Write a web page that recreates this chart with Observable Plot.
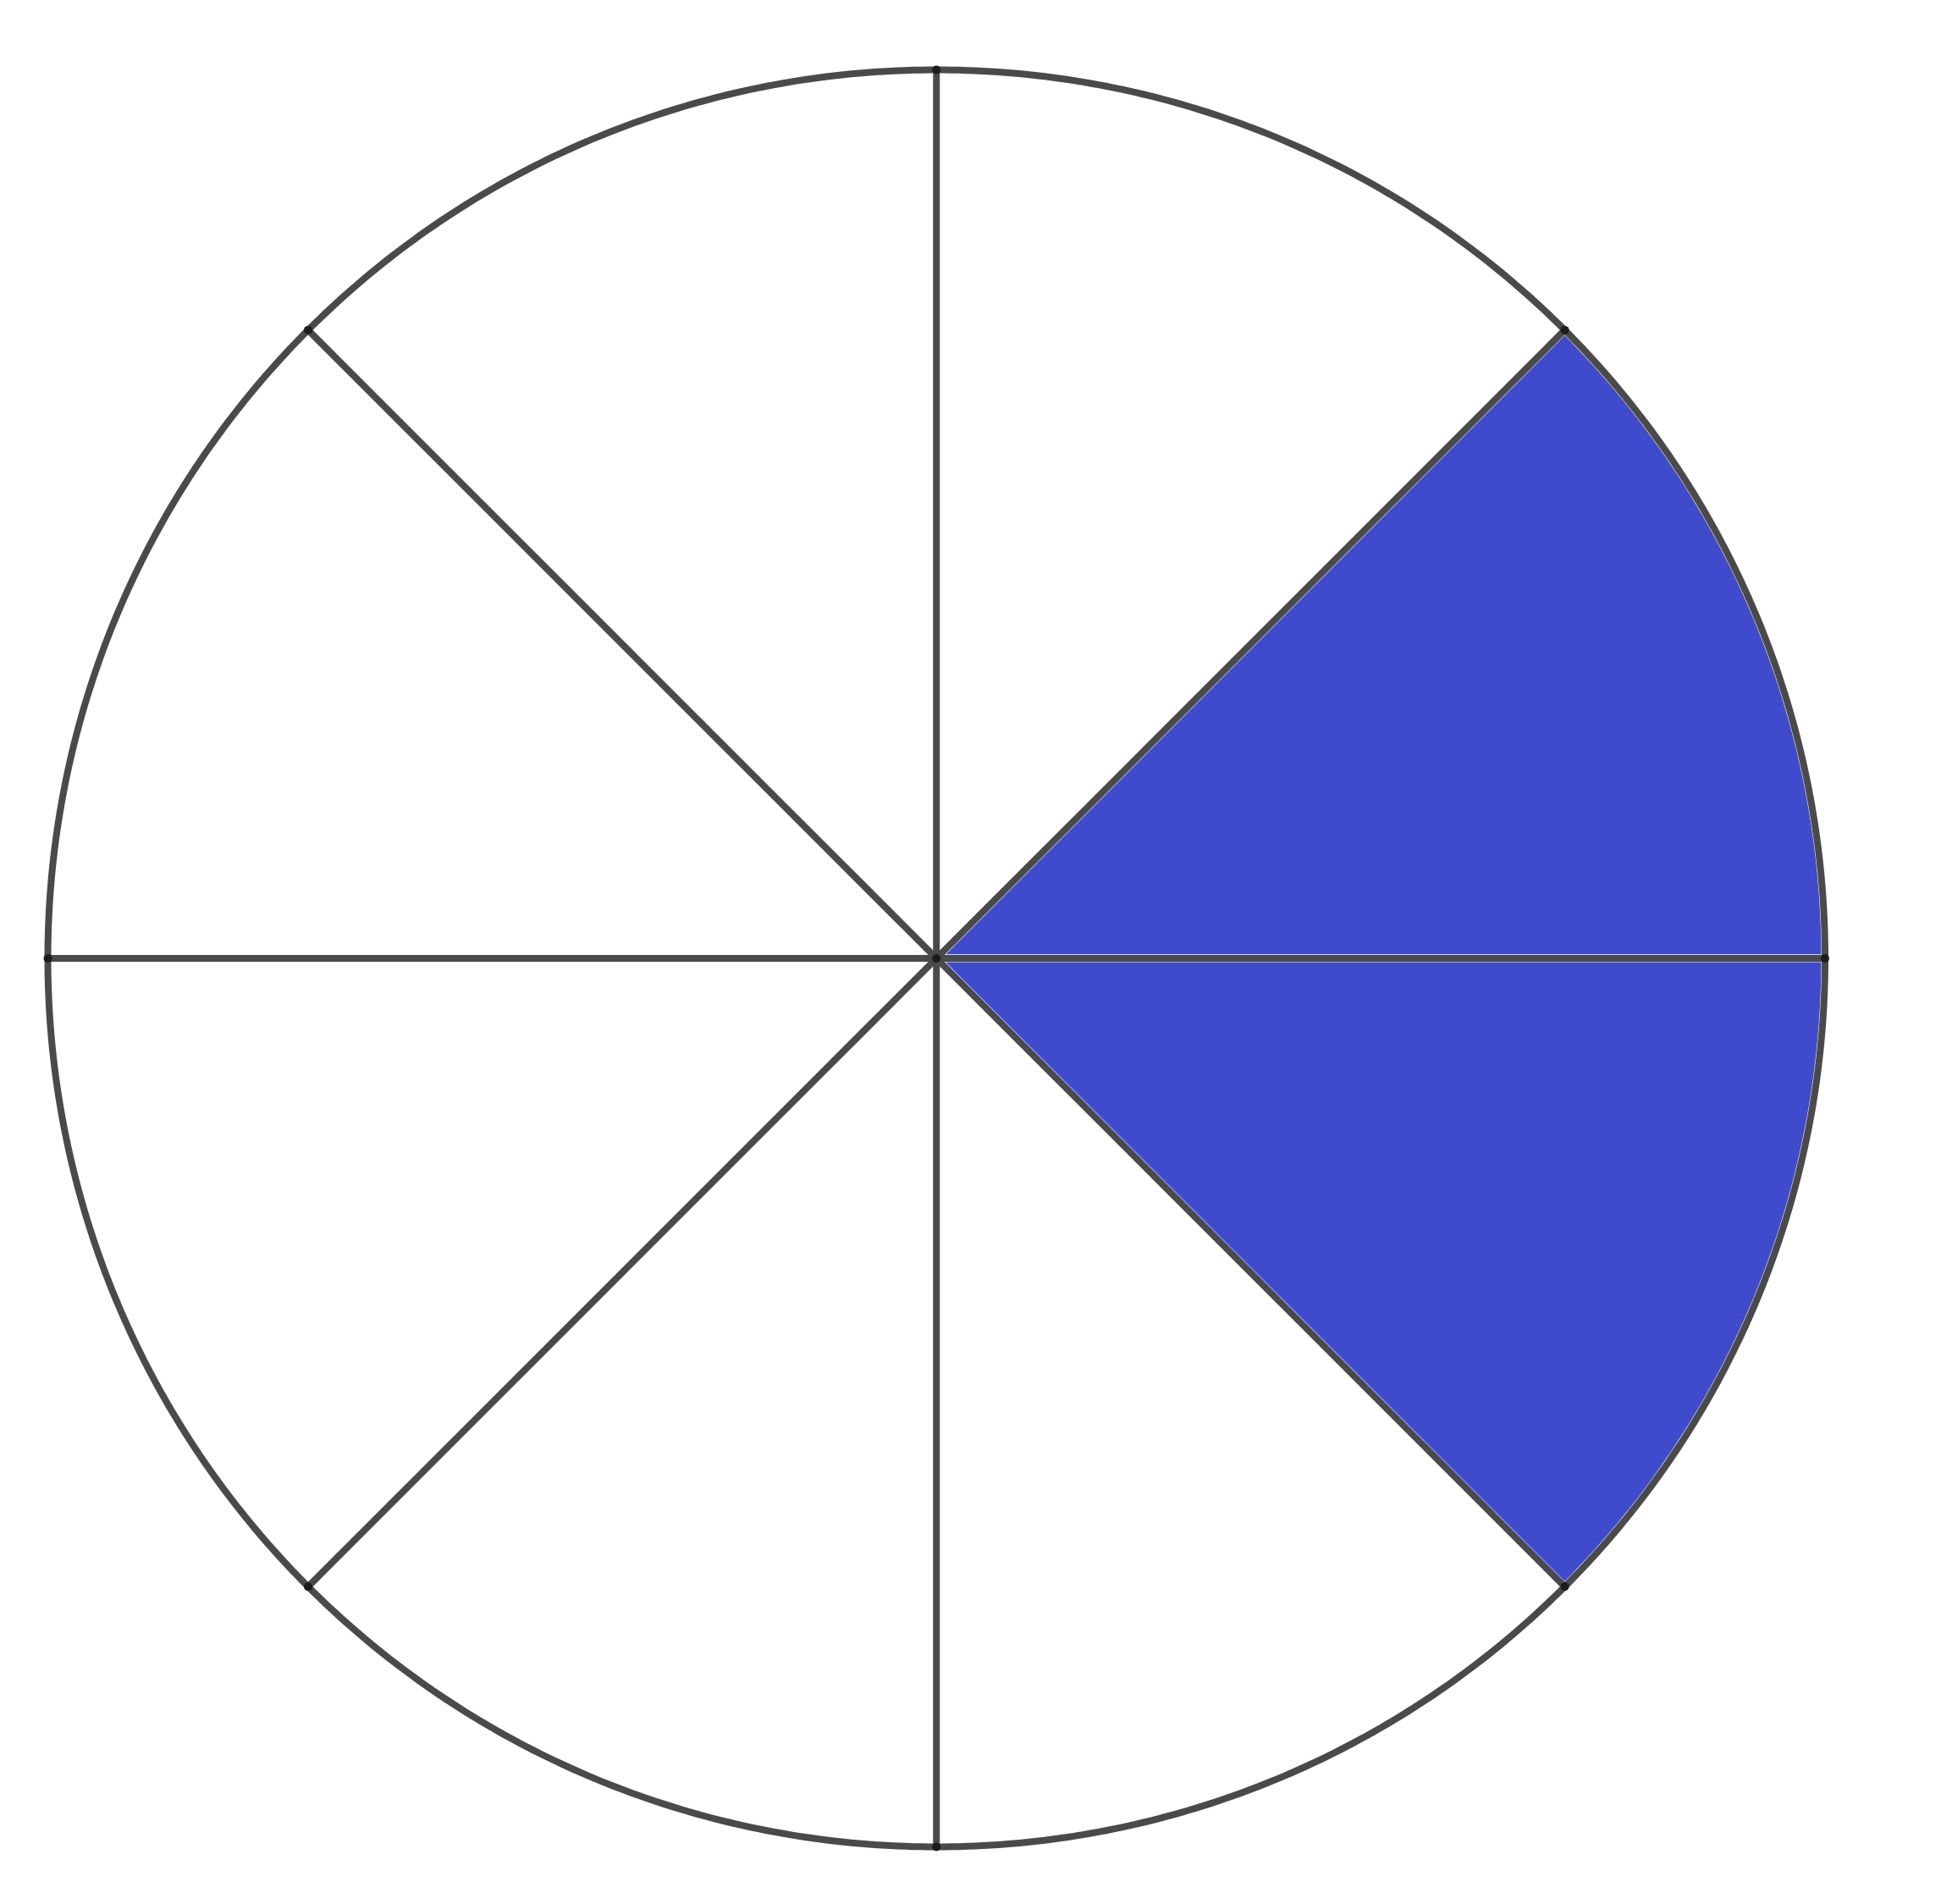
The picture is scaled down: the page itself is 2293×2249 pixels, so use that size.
<!DOCTYPE html>
<html>
<head>
<meta charset="utf-8">
<script src="https://cdn.jsdelivr.net/npm/d3@7"></script>
<script src="https://cdn.jsdelivr.net/npm/@observablehq/plot@0.6"></script>
<style>
  html, body { margin: 0; padding: 0; background: #fff; }
  #chart svg { display: block; }
</style>
</head>
<body>
<div id="chart"></div>
<script>
// Data: 8 equal slices, starting at 3 o'clock, going counter-clockwise
const sliceNames = ["S1", "S2", "S3", "S4", "S5", "S6", "S7", "S8"];
const sliceShaded = [true, false, false, false, false, false, false, true];
const shadeColor = "#3f4bcc";
const lineColor = "#4a4a4a";

const n = sliceNames.length;
const step = 2 * Math.PI / n;

// sector polygons (unit circle coordinates)
const sectorPts = [];
sliceNames.forEach((name, i) => {
  if (!sliceShaded[i]) return;
  const a0 = i * step, a1 = (i + 1) * step;
  sectorPts.push({slice: name, x: 0, y: 0});
  const k = 60;
  for (let j = 0; j <= k; j++) {
    const a = a0 + (a1 - a0) * j / k;
    sectorPts.push({slice: name, x: Math.cos(a), y: Math.sin(a)});
  }
  sectorPts.push({slice: name, x: 0, y: 0});
});

const rim = d3.range(0, 721).map(j => ({x: Math.cos(j / 720 * 2 * Math.PI), y: Math.sin(j / 720 * 2 * Math.PI)}));
const spokes = sliceNames.map((name, i) => ({x1: 0, y1: 0, x2: Math.cos(i * step), y2: Math.sin(i * step)}));
const ends = spokes.map(s => ({x: s.x2, y: s.y2})).concat([{x: 0, y: 0}]);

const chart = Plot.plot({
  width: 2293,
  height: 2249,
  marginLeft: 56,
  marginRight: 137.5,
  marginTop: 82,
  marginBottom: 68,
  x: {domain: [-1, 1], axis: null},
  y: {domain: [-1, 1], axis: null},
  marks: [
    Plot.line(sectorPts, {x: "x", y: "y", z: "slice", fill: shadeColor, stroke: "#ffffff", strokeWidth: 9, curve: "linear"}),
    Plot.line(rim, {x: "x", y: "y", stroke: lineColor, strokeWidth: 8}),
    Plot.link(spokes, {x1: "x1", y1: "y1", x2: "x2", y2: "y2", stroke: lineColor, strokeWidth: 8}),
    Plot.dot(ends, {x: "x", y: "y", r: 5, fill: "#1c1c1c", stroke: "none"})
  ]
});
document.getElementById("chart").appendChild(chart);
</script>
</body>
</html>
